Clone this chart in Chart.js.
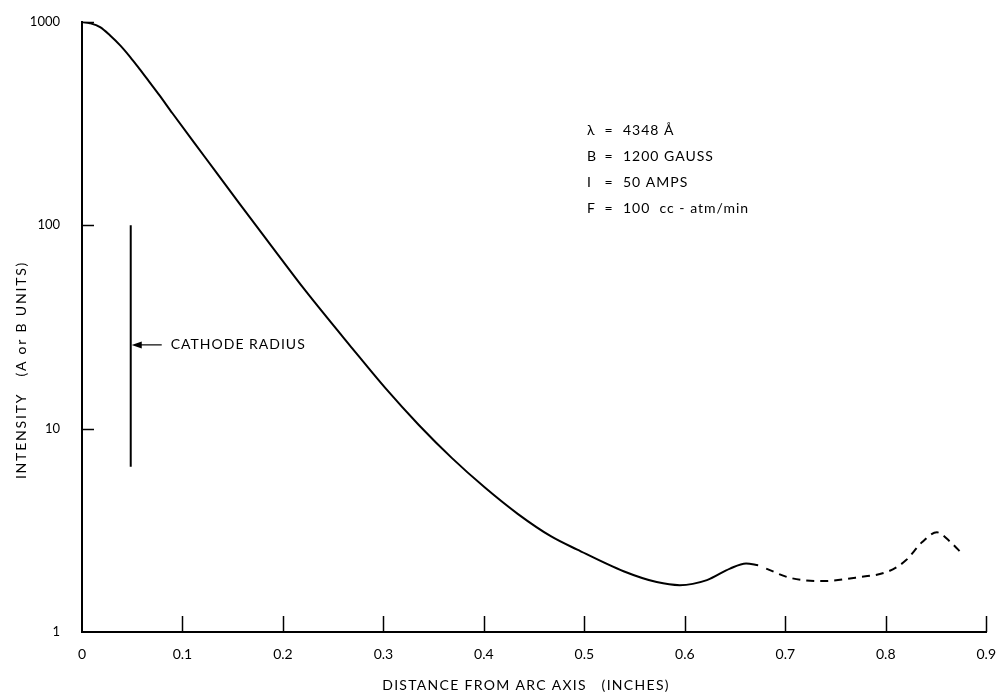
<!DOCTYPE html>
<html>
<head>
<meta charset="utf-8">
<script src="https://cdn.jsdelivr.net/npm/chart.js@4/dist/chart.umd.min.js"></script>
<style>
  html, body { margin: 0; padding: 0; background: #fff; }
  #wrap { width: 1002px; height: 696px; }
</style>
</head>
<body>
<div id="wrap"><canvas id="arcChart" width="1002" height="696"></canvas></div>
<script>
// measured curve (solid part)
const distance = [0, 0.008, 0.018, 0.028, 0.038, 0.048, 0.057, 0.067, 0.077, 0.090, 0.123, 0.156, 0.189, 0.222, 0.269, 0.302, 0.335, 0.368, 0.401, 0.434, 0.467, 0.493, 0.539, 0.572, 0.595, 0.622, 0.645, 0.661, 0.673];
const intensity = [1000, 984, 942, 857, 766, 671, 589, 507, 436, 355, 214, 129, 78.5, 47.9, 24.8, 15.8, 10.45, 7.18, 5.13, 3.80, 2.95, 2.54, 1.99, 1.76, 1.70, 1.80, 2.05, 2.17, 2.13];
// extrapolated part (dashed)
const distanceDashed = [0.681, 0.704, 0.737, 0.770, 0.803, 0.820, 0.836, 0.851, 0.863, 0.877];
const intensityDashed = [2.05, 1.85, 1.78, 1.85, 1.99, 2.25, 2.76, 3.09, 2.81, 2.40];

// cathode radius marker
const cathodeX = 0.0485;
const cathodeRange = [100, 6.5];
const cathodeArrowY = 25.8;

const xTicks = [0, 0.1, 0.2, 0.3, 0.4, 0.5, 0.6, 0.7, 0.8, 0.9];
const yTicks = [1, 10, 100, 1000];

const notes = ["λ", "B", "I", "F"];
const noteValues = ["4348 Å", "1200 GAUSS", "50 AMPS", "100  cc - atm/min"];

const FONT = "Lato, 'DejaVu Sans', sans-serif";

const extras = {
    id: "extras",
    afterDraw(chart) {
        const { ctx, chartArea } = chart;
        const xs = chart.scales.x;
        const ys = chart.scales.y;
        ctx.save();
        ctx.strokeStyle = "#000";
        ctx.fillStyle = "#000";

        // inward tick marks
        ctx.lineWidth = 1.5;
        yTicks.forEach((v) => {
            if (v === ys.min) return;
            const py = Math.round(ys.getPixelForValue(v)) + 0.5;
            ctx.beginPath();
            ctx.moveTo(chartArea.left, py);
            ctx.lineTo(chartArea.left + 12, py);
            ctx.stroke();
        });
        xTicks.forEach((v) => {
            if (v === xs.min) return;
            const px = Math.round(xs.getPixelForValue(v)) + 0.5;
            ctx.beginPath();
            ctx.moveTo(px, chartArea.bottom);
            ctx.lineTo(px, chartArea.bottom - 16);
            ctx.stroke();
        });

        // cathode radius arrow + label
        const cx = xs.getPixelForValue(cathodeX);
        const ay = ys.getPixelForValue(cathodeArrowY);
        ctx.lineWidth = 1.2;
        ctx.beginPath();
        ctx.moveTo(cx + 10, ay);
        ctx.lineTo(cx + 31, ay);
        ctx.stroke();
        ctx.beginPath();
        ctx.moveTo(cx + 1, ay);
        ctx.lineTo(cx + 11, ay - 3.5);
        ctx.lineTo(cx + 11, ay + 3.5);
        ctx.closePath();
        ctx.fill();
        ctx.font = "14px " + FONT;
        ctx.letterSpacing = "1px";
        ctx.textAlign = "left";
        ctx.textBaseline = "middle";
        ctx.fillText("CATHODE RADIUS", cx + 40, ay);

        // experiment conditions
        const nx = chartArea.left + 505;
        notes.forEach((n, i) => {
            const ny = 130 + i * 26;
            ctx.textAlign = "left";
            ctx.fillText(n, nx, ny);
            ctx.textAlign = "center";
            ctx.fillText("=", nx + 22, ny);
            ctx.textAlign = "left";
            ctx.fillText(noteValues[i], nx + 36, ny);
        });

        // axis titles
        ctx.font = "14px " + FONT;
        ctx.letterSpacing = "1.3px";
        ctx.textAlign = "center";
        ctx.textBaseline = "middle";
        ctx.fillText("DISTANCE FROM ARC AXIS   (INCHES)", 526, 685);
        ctx.letterSpacing = "1.8px";
        ctx.save();
        ctx.translate(21, 370);
        ctx.rotate(-Math.PI / 2);
        ctx.fillText("INTENSITY   (A or B UNITS)", 0, 0);
        ctx.restore();

        ctx.restore();
    }
};

new Chart(document.getElementById("arcChart"), {
    type: "line",
    plugins: [extras],
    data: {
        datasets: [
            {
                label: "measured",
                data: distance.map((d, i) => ({ x: d, y: intensity[i] })),
                borderColor: "#000",
                borderWidth: 2,
                pointRadius: 0,
                cubicInterpolationMode: "monotone",
                fill: false
            },
            {
                label: "extrapolated",
                data: distanceDashed.map((d, i) => ({ x: d, y: intensityDashed[i] })),
                borderColor: "#000",
                borderWidth: 2,
                borderDash: [8, 6],
                pointRadius: 0,
                cubicInterpolationMode: "monotone",
                fill: false
            },
            {
                label: "cathode",
                data: cathodeRange.map((v) => ({ x: cathodeX, y: v })),
                borderColor: "#000",
                borderWidth: 2,
                pointRadius: 0,
                fill: false
            }
        ]
    },
    options: {
        responsive: false,
        devicePixelRatio: 1,
        animation: false,
        layout: { padding: { left: 0, right: 10, top: 18, bottom: 0 } },
        plugins: { legend: { display: false }, tooltip: { enabled: false } },
        scales: {
            x: {
                type: "linear",
                min: 0,
                max: 0.9,
                afterBuildTicks: (s) => { s.ticks = xTicks.map((v) => ({ value: v })); },
                afterFit: (s) => { s.height = 64; },
                grid: { display: false },
                border: { display: true, color: "#000", width: 2 },
                ticks: {
                    color: "#000",
                    padding: 6,
                    maxRotation: 0,
                    font: { family: FONT, size: 14 },
                    callback: (v) => (v === 0 ? "0" : Number(v).toFixed(1))
                }
            },
            y: {
                type: "logarithmic",
                min: 1,
                max: 1000,
                afterBuildTicks: (s) => { s.ticks = yTicks.map((v) => ({ value: v })); },
                afterFit: (s) => { s.width = 82; },
                grid: { display: false },
                border: { display: true, color: "#000", width: 2 },
                ticks: {
                    color: "#000",
                    padding: 14,
                    font: { family: FONT, size: 13 },
                    callback: (v) => String(v)
                }
            }
        }
    }
});
</script>
</body>
</html>
